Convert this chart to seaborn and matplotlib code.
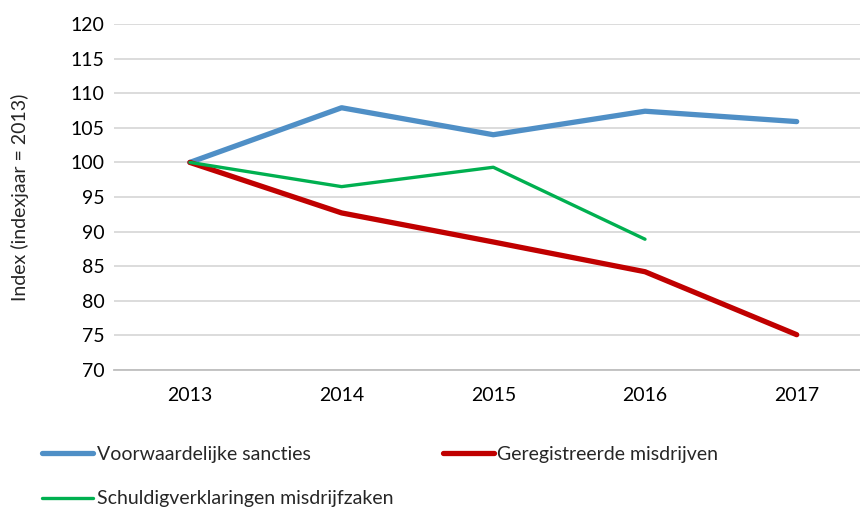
import pandas as pd
import numpy as np
import matplotlib
matplotlib.use("Agg")
import matplotlib.pyplot as plt
import seaborn as sns

years = ["2013", "2014", "2015", "2016", "2017"]
voorwaardelijk = [100, 107.9, 104.0, 107.4, 105.9]
geregistreerd = [100, 92.7, 88.5, 84.2, 75.1]
schuldig = [100, 96.5, 99.3, 88.9, np.nan]

series_names = ["Voorwaardelijke sancties", "Geregistreerde misdrijven",
                "Schuldigverklaringen misdrijfzaken"]
colors = ["#4F8FC6", "#C00000", "#00B050"]
widths = [3.8, 3.8, 2.4]

sns.set_style("white")
plt.rcParams['font.family'] = ['Lato', 'DejaVu Sans']

fig = plt.figure(figsize=(8.6, 5.08), dpi=100)
ax = fig.add_axes([0.1326, 0.2717, 0.882, 0.681])

df = pd.DataFrame({"jaar": years * 3,
                   "index": voorwaardelijk + geregistreerd + schuldig,
                   "reeks": [series_names[0]] * 5 + [series_names[1]] * 5 + [series_names[2]] * 5})
df["pos"] = df["jaar"].map({y: i for i, y in enumerate(years)})

lines = {}
for name, c, w in zip(series_names, colors, widths):
    sub = df[df["reeks"] == name].dropna()
    sns.lineplot(data=sub, x="pos", y="index", color=c, linewidth=w, ax=ax,
                 label=name, legend=False, solid_capstyle="round")
    lines[name] = ax.lines[-1]

ax.set_xlim(-0.5, 4.5)
ax.set_ylim(70, 120)
ax.set_yticks(range(70, 121, 5))
ax.set_xticks(range(len(years)))
ax.set_xticklabels(years)
ax.yaxis.grid(True, color="#D9D9D9", linewidth=1.3)
ax.set_axisbelow(True)
for s in ["top", "right", "left"]:
    ax.spines[s].set_visible(False)
ax.spines["bottom"].set_color("#BFBFBF")
ax.spines["bottom"].set_linewidth(1.3)
ax.tick_params(axis="both", length=0, labelsize=14, colors="#000000", pad=12)
ax.tick_params(axis="y", pad=7)
ax.set_xlabel("")
ax.set_ylabel("Index (indexjaar = 2013)", fontsize=14)
ax.yaxis.set_label_coords(-0.112, 0.5)

order = [series_names[0], series_names[2], series_names[1]]
fig.legend([lines[n] for n in order], order, ncol=2, loc="upper left",
           bbox_to_anchor=(0.029, 0.156), frameon=False, fontsize=14,
           handlelength=2.6, handletextpad=0.2, columnspacing=2.55,
           labelspacing=1.4)

fig.savefig("out.png", dpi=100)
